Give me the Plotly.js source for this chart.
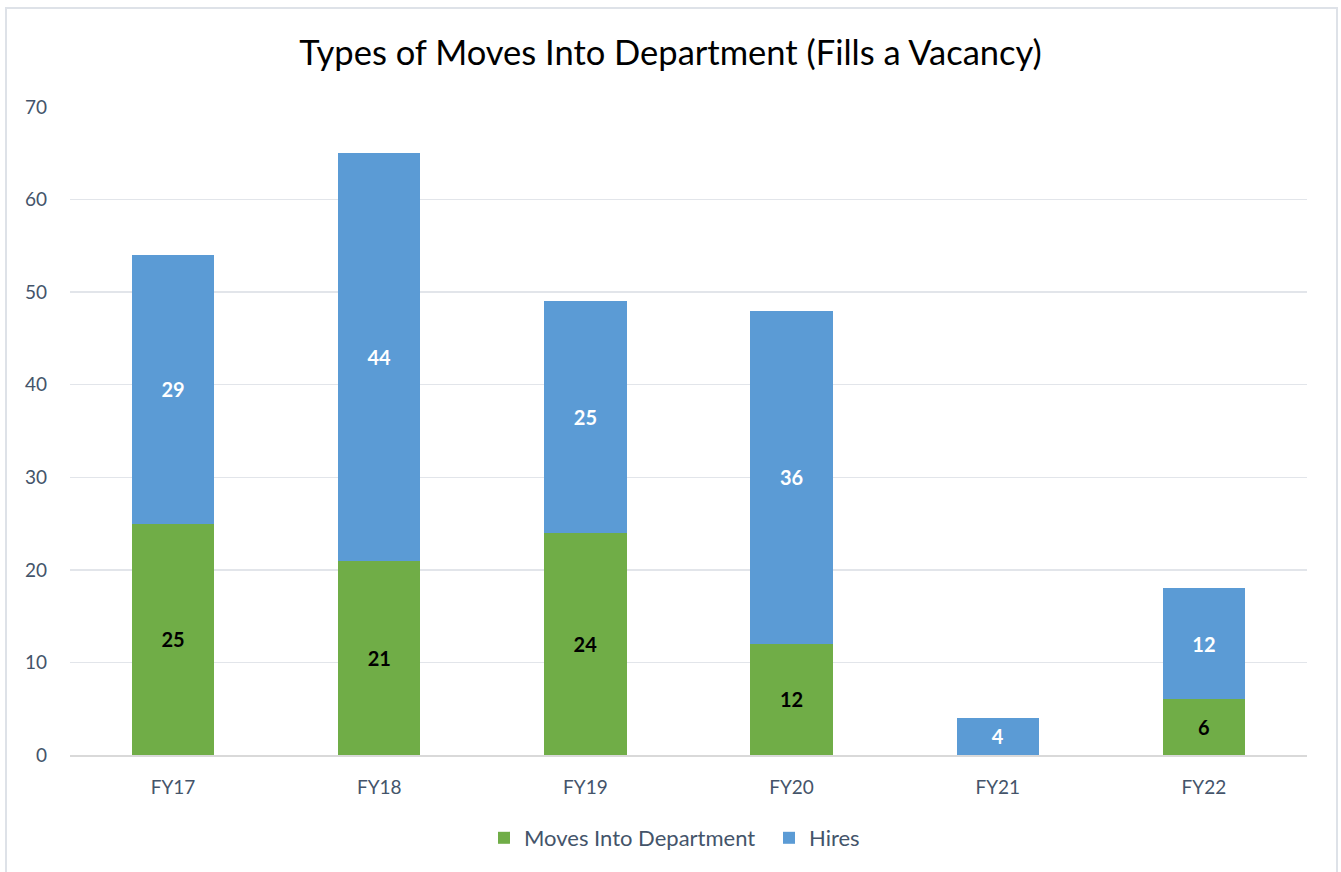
<!DOCTYPE html>
<html>
<head>
<meta charset="utf-8">
<script src="https://cdn.plot.ly/plotly-3.0.1.min.js"></script>
<style>
  html, body { margin: 0; padding: 0; background: #fff; }
  #chart { width: 1341px; height: 872px; position: absolute; left: 0; top: 0; }
  #frame { position: absolute; left: 5px; top: 7px; width: 1329px; height: 866px; border: 2px solid #DEE2E8; pointer-events: none; }
</style>
</head>
<body>
<div id="chart"></div>
<div id="frame"></div>
<script>
const categories = ["FY17", "FY18", "FY19", "FY20", "FY21", "FY22"];
const movesIntoDept = [25, 21, 24, 12, null, 6];
const hires = [29, 44, 25, 36, 4, 12];
const yTicks = [0, 10, 20, 30, 40, 50, 60, 70];

const fontFam = "Lato, 'Open Sans', 'Noto Sans', sans-serif";

const traces = [
  {
    type: "bar",
    name: "Moves Into Department",
    x: categories,
    y: movesIntoDept,
    text: movesIntoDept.map(v => v == null ? "" : String(v)),
    textposition: "inside",
    insidetextanchor: "middle",
    textangle: 0,
    constraintext: "none",
    textfont: { family: fontFam, size: 20, color: "#000000", weight: "bold" },
    marker: { color: "#70AD47" },
    hoverinfo: "x+y+name"
  },
  {
    type: "bar",
    name: "Hires",
    x: categories,
    y: hires,
    text: hires.map(String),
    textposition: "inside",
    insidetextanchor: "middle",
    textangle: 0,
    constraintext: "none",
    textfont: { family: fontFam, size: 20, color: "#FFFFFF", weight: "bold" },
    marker: { color: "#5B9BD5" },
    hoverinfo: "x+y+name"
  }
];

const layout = {
  width: 1341,
  height: 872,
  barmode: "stack",
  bargap: 0.6,
  paper_bgcolor: "rgba(0,0,0,0)",
  plot_bgcolor: "#FFFFFF",
  margin: { l: 70, r: 34, t: 107, b: 117 },
  font: { family: fontFam, color: "#44546A" },
  title: {
    text: "Types of Moves Into Department (Fills a Vacancy)",
    font: { family: fontFam, size: 34.5, color: "#000000" },
    x: 0.5,
    xanchor: "center",
    y: 1 - 53 / 872,
    yanchor: "middle",
    yref: "container"
  },
  xaxis: {
    type: "category",
    categoryorder: "array",
    categoryarray: categories,
    showgrid: false,
    zeroline: false,
    showline: true,
    linecolor: "#D9D9D9",
    linewidth: 1.5,
    ticks: "",
    ticklabelstandoff: 15,
    tickfont: { family: fontFam, size: 19, color: "#44546A" }
  },
  yaxis: {
    range: [0, 70],
    tickmode: "array",
    tickvals: yTicks,
    ticktext: yTicks.map(String),
    showgrid: true,
    gridcolor: "#E2E5EA",
    gridwidth: 1.5,
    zeroline: false,
    showline: false,
    ticks: "",
    ticklabelstandoff: 22,
    tickfont: { family: fontFam, size: 19, color: "#44546A" }
  },
  legend: {
    orientation: "h",
    x: (484 - 70) / 1237,
    xanchor: "left",
    y: (755 - 838) / 648,
    yanchor: "middle",
    font: { family: fontFam, size: 22, color: "#44546A" },
    itemwidth: 30,
    entrywidth: 240,
    entrywidthmode: "pixels",
    tracegroupgap: 0,
    traceorder: "normal"
  },
  showlegend: true
};

Plotly.newPlot("chart", traces, layout, { displayModeBar: false, staticPlot: true });
</script>
</body>
</html>
